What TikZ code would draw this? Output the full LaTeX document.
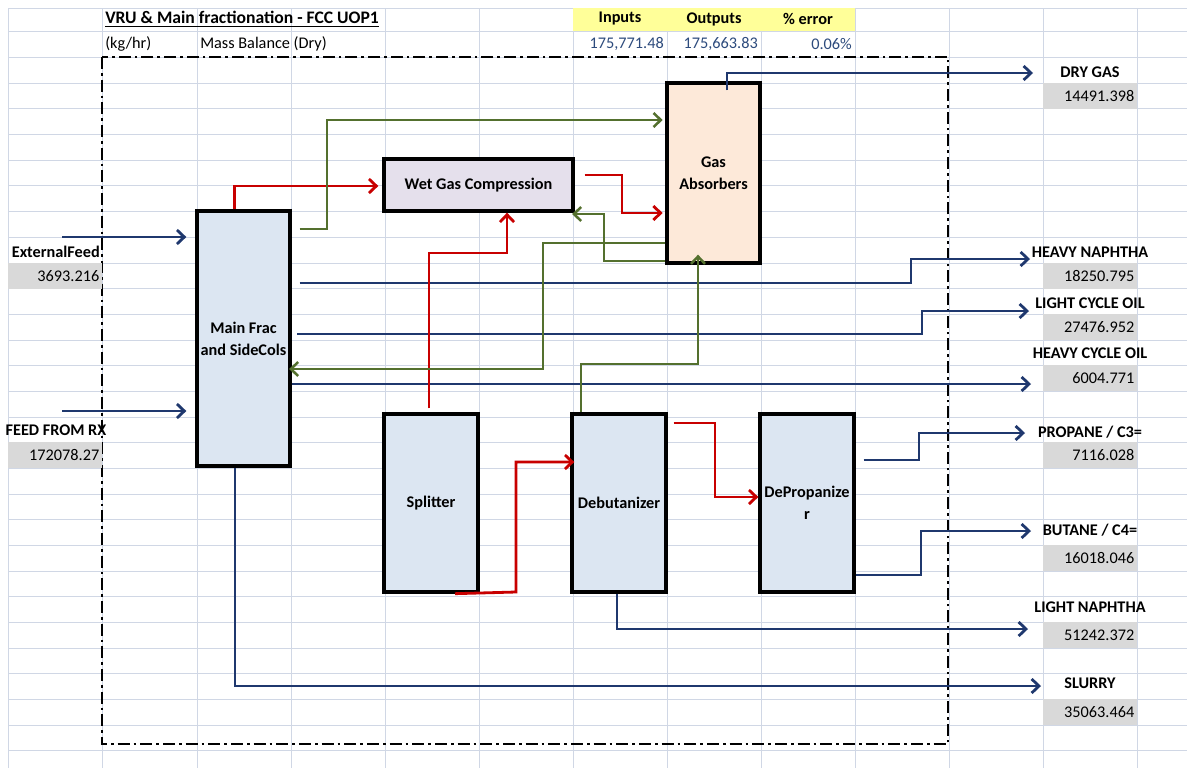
\documentclass[tikz,border=0pt]{standalone}
\usepackage{fontspec}
\setmainfont{Carlito}
\usetikzlibrary{arrows.meta,calc}
\definecolor{gridc}{RGB}{208,215,229}
\definecolor{navy}{RGB}{31,56,110}
\definecolor{redc}{RGB}{200,0,0}
\definecolor{olivec}{RGB}{84,112,46}
\definecolor{boxblue}{RGB}{220,230,242}
\definecolor{boxlav}{RGB}{229,224,236}
\definecolor{boxpeach}{RGB}{253,233,217}
\definecolor{cellgrey}{RGB}{217,217,217}
\definecolor{celly}{RGB}{255,255,153}
\definecolor{valc}{RGB}{45,75,125}
\begin{document}
\begin{tikzpicture}[x=0.75pt,y=-0.75pt,
  every node/.style={font=\fontsize{12.2}{14}\selectfont, inner sep=0pt},
  bold/.style={font=\fontsize{12.2}{14}\selectfont\bfseries},
  unit/.style={draw=black, line width=2.5pt, inner sep=0pt, align=center,
    font=\fontsize{12.2}{16.5}\selectfont\bfseries},
  conn/.style={line width=2.1pt, -{Straight Barb[length=5.5pt,width=10.5pt]}},
  bl/.style={conn, draw=navy},
  rd/.style={conn, draw=redc},
  gr/.style={conn, draw=olivec, line width=1.9pt},
  gcell/.style={fill=cellgrey, anchor=north west, minimum height=19pt,
    text width=66pt, align=right, inner xsep=2.25pt, inner ysep=0pt}
]
\useasboundingbox (0,0) rectangle (1187,768);
\fill[white] (0,0) rectangle (1187,768);
% grid
\foreach \x in {8,102,197,291,385,479,573,667,761,855,949,1043,1137}
  \draw[gridc, line width=0.75pt] (\x,8) -- (\x,768);
\foreach \y in {8,31,57,83,108,134,160,185,211,237,263,288,314,340,365,391,417,442,468,494,519,545,571,596,622,648,673,699,725,750}
  \draw[gridc, line width=0.75pt] (8,\y) -- (1187,\y);
% header
\fill[celly] (573,8) rectangle (855,31);
\node[font=\fontsize{13.2}{15}\selectfont\bfseries, anchor=west] (title) at (105,19) {\underline{VRU \& Main fractionation - FCC UOP1}};
\node[anchor=west] (kghr) at (105,44) {(kg/hr)};
\node[anchor=west] (mbal) at (200,44) {Mass Balance (Dry)};
\node[bold] (hin) at (620,19) {Inputs};
\node[bold] (hout) at (714,19) {Outputs};
\node[bold] (herr) at (808,19) {\% error};
\node[anchor=east, text=valc] (vin) at (664,44) {175,771.48};
\node[anchor=east, text=valc] (vout) at (758,44) {175,663.83};
\node[anchor=east, text=valc] (verr) at (852,44) {0.06\%};
% boundary
\draw[line width=2.1pt, dash pattern=on 9pt off 3pt on 2pt off 3pt] (102,57) rectangle (948,744);
% units
\node[unit, fill=boxblue, minimum width=69.75pt, minimum height=191.25pt] (mf) at (243.5,338.5) {Main Frac\\and SideCols};
\node[unit, fill=boxlav, minimum width=141.75pt, minimum height=39pt] (wgc) at (478.5,185) {Wet Gas Compression};
\node[unit, fill=boxpeach, minimum width=69.75pt, minimum height=135pt] (ga) at (713.5,173) {Gas\\Absorbers};
\node[unit, fill=boxblue, minimum width=70.5pt, minimum height=133.5pt] (sp) at (431,503) {Splitter};
\node[unit, fill=boxblue, minimum width=70.5pt, minimum height=133.5pt] (db) at (619,503) {Debutanizer};
\node[unit, fill=boxblue, minimum width=70.5pt, minimum height=133.5pt] (dp) at (807,503) {DePropanize\\r};
% left labels
\node[bold, anchor=east] (lext) at (100,252) {ExternalFeed};
\node[gcell] (vext) at (8,263) {3693.216};
\node[bold] (lrx) at (56,430) {FEED FROM RX};
\node[gcell] (vrx) at (8,442) {172078.27};
% right labels
\node[bold] (ldry) at (1090,72) {DRY GAS};
\node[gcell] (vdry) at (1043,83) {14491.398};
\node[bold] (lhn) at (1090,252) {HEAVY NAPHTHA};
\node[gcell] (vhn) at (1043,263) {18250.795};
\node[bold] (llco) at (1090,303) {LIGHT CYCLE OIL};
\node[gcell] (vlco) at (1043,314) {27476.952};
\node[bold] (lhco) at (1090,353) {HEAVY CYCLE OIL};
\node[gcell] (vhco) at (1043,365) {6004.771};
\node[bold] (lc3) at (1090,432) {PROPANE / C3=};
\node[gcell] (vc3) at (1043,442) {7116.028};
\node[bold] (lc4) at (1090,530) {BUTANE / C4=};
\node[gcell] (vc4) at (1043,545) {16018.046};
\node[bold] (lln) at (1090,607) {LIGHT NAPHTHA};
\node[gcell] (vln) at (1043,622) {51242.372};
\node[bold] (lsl) at (1090,683) {SLURRY};
\node[gcell] (vsl) at (1043,699) {35063.464};
% blue streams
\draw[bl, shorten >=6.75pt] (62,237) -- (mf.west|-0,237);
\draw[bl, shorten >=6.75pt] (62,411) -- (mf.west|-0,411);
\draw[bl, shorten <=6pt] (mf.east|-0,283) -- (911,283) -- (911,259) -- (1030,259);
\draw[bl, shorten <=4pt] (mf.east|-0,334) -- (922,334) -- (922,311) -- (1029,311);
\draw[bl] (mf.east|-0,384) -- (1031,384);
\draw[bl] ($(ga.north)+(13.5,9)$) -- (727,73) -- (1033,73);
\draw[bl, shorten <=6pt] (dp.east|-0,460) -- (919,460) -- (919,433) -- (1025,433);
\draw[bl] (dp.east|-0,575) -- (921,575) -- (921,531) -- (1031,531);
\draw[bl] (db.south -| 617,0) -- (617,629) -- (1028,629);
\draw[bl] (mf.south -| 235,0) -- (235,686) -- (1041,686);
% red streams
\draw[rd, shorten >=3pt] (mf.north -| 234.5,0) -- (234.5,186) -- (wgc.west|-0,186);
\draw[rd, shorten <=7.5pt, shorten >=2pt] (wgc.east|-0,175) -- (622,175) -- (622,213) -- (ga.west|-0,213);
\draw[rd, shorten <=3pt] (sp.north -| 429,0) -- (429,253) -- (507,253) -- (wgc.south -| 507,0);
\draw[rd, shorten >=-3pt] (sp.south -| 455,0) -- (516,592) -- (516,462) -- (db.west|-0,462);
\draw[rd, shorten <=4.5pt] (db.east|-0,423) -- (715,423) -- (715,497) -- (dp.west|-0,497);
% green streams
\draw[gr, shorten <=6pt, shorten >=2pt] (mf.east|-0,229) -- (327,229) -- (327,120) -- (ga.west|-0,120);
\draw[gr, shorten >=-2pt] (ga.west|-0,261) -- (604,261) -- (604,214) -- (wgc.east|-0,214);
\draw[gr, shorten >=-2pt] (ga.west|-0,243) -- (543,243) -- (543,369) -- (mf.east|-0,369);
\draw[gr, shorten >=-7.5pt] (db.north -| 581,0) -- (581,364) -- (698,364) -- (ga.south -| 698,0);
\end{tikzpicture}
\end{document}
